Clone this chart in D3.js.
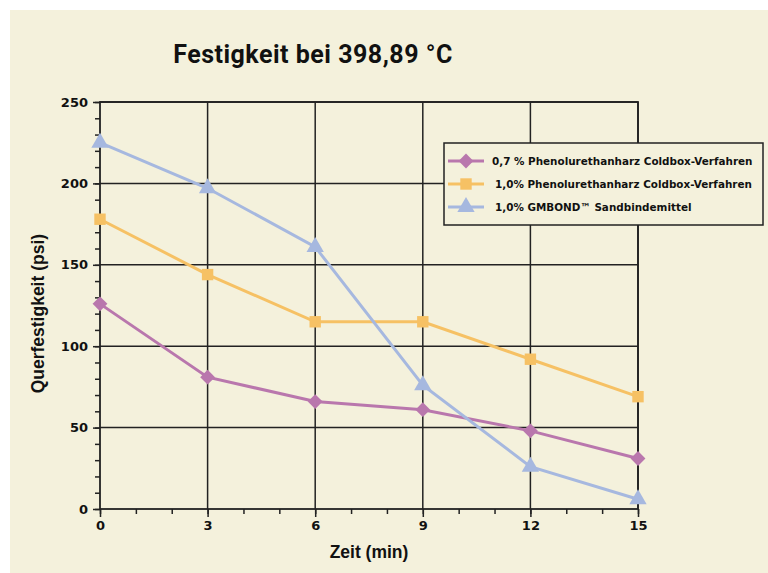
<!DOCTYPE html>
<html>
<head>
<meta charset="utf-8">
<script src="https://cdn.jsdelivr.net/npm/d3@7"></script>
<style>
  body { margin: 0; background: #ffffff; }
  svg { display: block; }
</style>
</head>
<body>
<div id="chart"></div>
<script>
// Daten
const zeit = [0, 3, 6, 9, 12, 15];
const phenol07 = [126, 81, 66, 61, 48, 31];
const phenol10 = [178, 144, 115, 115, 92, 69];
const gmbond = [225, 197, 161, 76, 26, 6];
const serienNamen = [
  "0,7 % Phenolurethanharz Coldbox-Verfahren",
  "1,0% Phenolurethanharz Coldbox-Verfahren",
  "1,0% GMBOND\u2122  Sandbindemittel"
];
const xTicks = [0, 3, 6, 9, 12, 15];
const yTicks = [0, 50, 100, 150, 200, 250];

const W = 768, H = 573;
const margin = { top: 102, right: 130, bottom: 64, left: 100 };
const width = W - margin.left - margin.right;   // 538
const height = H - margin.top - margin.bottom;  // 407

const svgRoot = d3.select("#chart").append("svg")
  .attr("width", W).attr("height", H);

// Hintergrund
svgRoot.append("rect")
  .attr("x", 10).attr("y", 10).attr("width", W - 10).attr("height", H - 10)
  .attr("fill", "#f4f1dc");

svgRoot.append("text")
  .attr("x", 313).attr("y", 63)
  .attr("text-anchor", "middle")
  .attr("font-family", "Roboto")
  .attr("font-weight", "bold")
  .attr("font-size", 25)
  .attr("letter-spacing", 0.5)
  .attr("fill", "#111")
  .text("Festigkeit bei 398,89 °C");

const svg = svgRoot.append("g")
  .attr("transform", `translate(${margin.left}, ${margin.top})`);

const x = d3.scaleLinear().domain([0, 15]).range([0, width]);
const y = d3.scaleLinear().domain([0, 250]).range([height, 0]);

// Gitter
svg.append("g")
  .selectAll("line")
  .data(xTicks.slice(1))
  .join("line")
  .attr("x1", d => x(d)).attr("x2", d => x(d))
  .attr("y1", 0).attr("y2", height)
  .attr("stroke", "#222").attr("stroke-width", 1.5);

svg.append("g")
  .selectAll("line")
  .data(yTicks.slice(1))
  .join("line")
  .attr("x1", 0).attr("x2", width)
  .attr("y1", d => y(d)).attr("y2", d => y(d))
  .attr("stroke", "#222").attr("stroke-width", 1.5);

// Achsen
const xMinor = svg.append("g")
  .attr("transform", `translate(0, ${height})`)
  .call(d3.axisBottom(x).ticks(15).tickSize(5).tickFormat(""));
const xMajor = svg.append("g")
  .attr("transform", `translate(0, ${height})`)
  .call(d3.axisBottom(x).tickValues(xTicks).tickSize(8).tickPadding(4));

const yMinor = svg.append("g")
  .call(d3.axisLeft(y).ticks(25).tickSize(5).tickFormat(""));
const yMajor = svg.append("g")
  .call(d3.axisLeft(y).tickValues(yTicks).tickSize(7).tickPadding(5));

[xMinor, xMajor, yMinor, yMajor].forEach(g => {
  g.select(".domain").remove();
  g.selectAll("line").attr("stroke", "#222").attr("stroke-width", 1.5);
  g.selectAll("text")
    .attr("font-family", "DejaVu Sans")
    .attr("font-weight", "bold")
    .attr("font-size", 13)
    .attr("fill", "#111");
});

// Rahmen
svg.append("rect")
  .attr("x", 0).attr("y", 0).attr("width", width).attr("height", height)
  .attr("fill", "none").attr("stroke", "#222").attr("stroke-width", 1.8);

// Achsentitel
svg.append("text")
  .attr("x", x(7.5)).attr("y", height + 49)
  .attr("text-anchor", "middle")
  .attr("font-family", "Liberation Sans")
  .attr("font-weight", "bold")
  .attr("font-size", 17.5)
  .attr("fill", "#111")
  .text("Zeit (min)");

svg.append("text")
  .attr("transform", `translate(-56, ${y(120)}) rotate(-90)`)
  .attr("text-anchor", "middle")
  .attr("font-family", "Liberation Sans")
  .attr("font-weight", "bold")
  .attr("font-size", 17.5)
  .attr("fill", "#111")
  .text("Querfestigkeit (psi)");

// Serien
const serien = [
  { werte: phenol07, farbe: "#b977ad", symbol: d3.symbolSquare, groesse: 110, drehung: 45 },
  { werte: phenol10, farbe: "#f6c164", symbol: d3.symbolSquare, groesse: 130, drehung: 0 },
  { werte: gmbond, farbe: "#a6b8df", symbol: d3.symbolTriangle, groesse: 130, drehung: 0 }
];

const line = d3.line().x((d, i) => x(zeit[i])).y(d => y(d));

serien.forEach(s => {
  svg.append("path")
    .datum(s.werte)
    .attr("fill", "none")
    .attr("stroke", s.farbe)
    .attr("stroke-width", 3)
    .attr("d", line);
});

serien.forEach(s => {
  svg.append("g")
    .selectAll("path")
    .data(s.werte)
    .join("path")
    .attr("transform", (d, i) => `translate(${x(zeit[i])}, ${y(d)}) rotate(${s.drehung})`)
    .attr("d", d3.symbol().type(s.symbol).size(s.groesse))
    .attr("fill", s.farbe);
});

// Legende
const leg = svgRoot.append("g").attr("transform", "translate(444, 143)");
leg.append("rect")
  .attr("width", 319).attr("height", 82)
  .attr("fill", "#f4f1dc").attr("stroke", "#222").attr("stroke-width", 1.5);

serien.forEach((s, i) => {
  const yy = 18 + i * 23;
  leg.append("line")
    .attr("x1", 4).attr("x2", 40).attr("y1", yy).attr("y2", yy)
    .attr("stroke", s.farbe).attr("stroke-width", 3);
  leg.append("path")
    .attr("transform", `translate(22, ${yy}) rotate(${s.drehung})`)
    .attr("d", d3.symbol().type(s.symbol).size(s.groesse))
    .attr("fill", s.farbe);
  leg.append("text")
    .attr("x", i === 0 ? 48 : 51).attr("y", yy + 4)
    .attr("font-family", "DejaVu Sans")
    .attr("font-weight", "bold")
    .attr("font-size", 10.4)
    .attr("fill", "#111")
    .text(serienNamen[i]);
});
</script>
</body>
</html>
